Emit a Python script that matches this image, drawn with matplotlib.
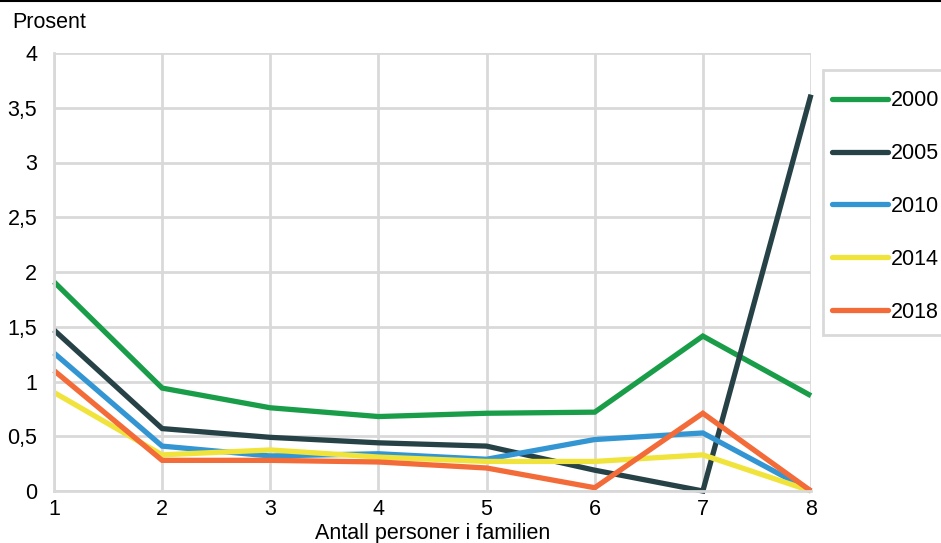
import matplotlib
matplotlib.use("Agg")
import matplotlib.pyplot as plt
from matplotlib.ticker import FuncFormatter
from matplotlib.patches import Rectangle

plt.rcParams['font.family'] = ['Liberation Sans', 'DejaVu Sans']

x = [1, 2, 3, 4, 5, 6, 7, 8]
s2000 = [1.91, 0.94, 0.76, 0.68, 0.71, 0.72, 1.415, 0.87]
s2005 = [1.47, 0.57, 0.49, 0.44, 0.41, 0.19, 0.0, 3.62]
s2010 = [1.26, 0.41, 0.32, 0.34, 0.29, 0.47, 0.53, 0.0]
s2014 = [0.90, 0.33, 0.375, 0.31, 0.27, 0.27, 0.33, 0.0]
s2018 = [1.10, 0.28, 0.28, 0.265, 0.21, 0.03, 0.71, 0.0]
labels = ['2000', '2005', '2010', '2014', '2018']
colors = ['#1a9d49', '#274247', '#3396d3', '#f0e43c', '#f26b38']
series = [s2000, s2005, s2010, s2014, s2018]

FS = 15.5
LW = 3.8
fig = plt.figure(figsize=(9.41, 5.43), dpi=100)
ax = fig.add_axes([54/941, 1-491/543, (811-54)/941, (491-53)/543])

for ys, lab, c in zip(series, labels, colors):
    ax.plot(x, ys, color=c, lw=LW, label=lab, solid_capstyle='butt',
            solid_joinstyle='miter', clip_on=False)

ax.set_xlim(1, 8)
ax.set_ylim(0, 4)
ax.set_xticks(x)
ax.set_yticks([0, 0.5, 1, 1.5, 2, 2.5, 3, 3.5, 4])
ax.yaxis.set_major_formatter(FuncFormatter(lambda v, p: ('%g' % v).replace('.', ',')))
ax.grid(True, color='#d9d9d9', lw=2)
ax.set_axisbelow(True)
for sp in ['top', 'right']:
    ax.spines[sp].set_visible(False)
for sp in ['left', 'bottom']:
    ax.spines[sp].set_color('#d9d9d9')
    ax.spines[sp].set_linewidth(2)
ax.tick_params(length=0, labelsize=FS, colors='black')
ax.tick_params(axis='y', pad=12)
ax.tick_params(axis='x', pad=6)
ax.set_xlabel('Antall personer i familien', fontsize=FS, labelpad=2)
fig.text(12/941, 1-23/543, 'Prosent', fontsize=FS, va='center', ha='left')

# legend frame
fig.add_artist(Rectangle((823/941, 1-335/543), 130/941, (335-70)/543, transform=fig.transFigure,
                         facecolor='white', edgecolor='#d9d9d9', lw=2, zorder=-1))
leg = ax.legend(loc='upper left', bbox_to_anchor=(828/941, 1-86/543), bbox_transform=fig.transFigure,
                frameon=False, fontsize=FS, handlelength=2.6, handletextpad=0.12,
                labelspacing=1.48, borderpad=0.2, borderaxespad=0)
for h in leg.get_lines():
    h.set_linewidth(LW)
    h.set_solid_capstyle('round')

fig.add_artist(plt.Line2D([0, 1], [1-1/543, 1-1/543], color='black', lw=1.5,
                          transform=fig.transFigure))

fig.savefig('out.png', dpi=100)
